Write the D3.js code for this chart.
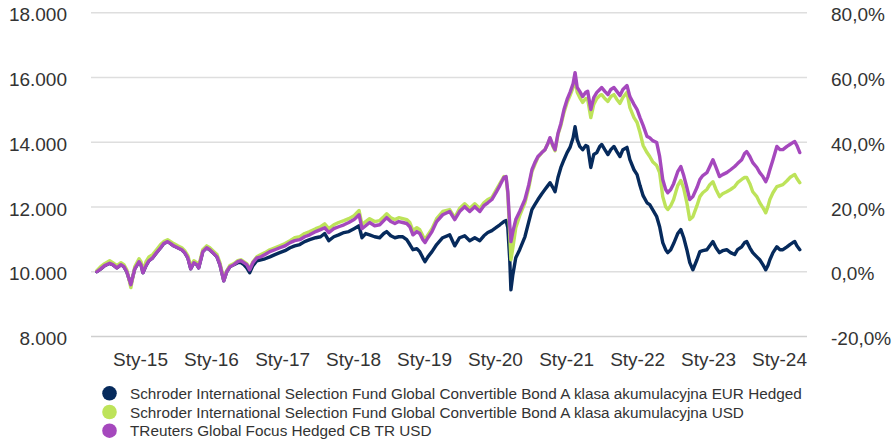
<!DOCTYPE html>
<html><head><meta charset="utf-8">
<script src="https://cdn.jsdelivr.net/npm/d3@7"></script>
<style>
html,body{margin:0;padding:0;background:#fff;}
svg{display:block;}
</style></head>
<body><svg id="chart" width="893" height="442"></svg>
<script>
// ---------------- DATA ----------------
const dates = [
"2014-05-24","2014-06-13","2014-07-03","2014-07-29","2014-08-14","2014-09-04","2014-09-25","2014-10-10","2014-10-25","2014-11-15",
"2014-12-05","2014-12-27","2015-01-06","2015-01-16","2015-02-01","2015-02-16","2015-03-07","2015-03-27","2015-04-17","2015-05-03",
"2015-05-23","2015-06-08","2015-06-23","2015-07-14","2015-08-04","2015-08-19","2015-09-04","2015-09-19","2015-10-05","2015-10-20",
"2015-10-30","2015-11-20","2015-12-10","2015-12-26","2016-01-11","2016-02-01","2016-02-16","2016-03-07","2016-03-22","2016-04-07",
"2016-04-28","2016-05-18","2016-06-03","2016-06-18","2016-07-03","2016-07-18","2016-08-04","2016-08-24","2016-09-14","2016-10-05",
"2016-10-30","2016-11-25","2016-12-20","2017-01-16","2017-02-11","2017-03-07","2017-04-02","2017-04-27","2017-05-23","2017-06-23",
"2017-07-18","2017-08-08","2017-08-29","2017-09-24","2017-10-19","2017-11-15","2017-12-10","2018-01-06","2018-02-01","2018-02-16",
"2018-03-07","2018-03-27","2018-04-22","2018-05-18","2018-06-08","2018-06-23","2018-07-14","2018-08-04","2018-08-24","2018-09-14",
"2018-10-04","2018-10-20","2018-11-05","2018-11-25","2018-12-10","2018-12-26","2019-01-06","2019-01-21","2019-02-11","2019-03-07",
"2019-04-07","2019-05-13","2019-06-08","2019-07-03","2019-07-29","2019-08-24","2019-09-19","2019-10-15","2019-11-05","2019-11-25",
"2019-12-16","2020-01-06","2020-01-26","2020-02-16","2020-02-27","2020-03-07","2020-03-17","2020-03-23","2020-04-02","2020-04-17",
"2020-05-07","2020-06-03","2020-06-23","2020-07-09","2020-07-24","2020-08-09","2020-08-29","2020-09-14","2020-09-29","2020-10-10",
"2020-10-25","2020-11-05","2020-11-20","2020-12-05","2020-12-21","2021-01-06","2021-01-21","2021-02-06","2021-02-16","2021-02-27",
"2021-03-12","2021-03-27","2021-04-12","2021-04-22","2021-05-08","2021-05-23","2021-06-08","2021-06-23","2021-07-03","2021-07-19",
"2021-08-04","2021-08-19","2021-09-04","2021-09-19","2021-10-05","2021-10-20","2021-11-10","2021-11-25","2021-12-16","2022-01-01",
"2022-01-16","2022-02-01","2022-02-21","2022-03-07","2022-03-22","2022-04-12","2022-04-27","2022-05-13","2022-05-28","2022-06-08",
"2022-06-23","2022-07-08","2022-07-29","2022-08-14","2022-08-29","2022-09-14","2022-09-29","2022-10-15","2022-11-05","2022-11-20",
"2022-12-05","2022-12-26","2023-01-10","2023-01-26","2023-02-11","2023-03-01","2023-03-17","2023-04-07","2023-04-27","2023-05-18",
"2023-06-02","2023-06-23","2023-07-08","2023-07-19","2023-08-04","2023-08-19","2023-09-09","2023-09-24","2023-10-10","2023-10-25",
"2023-11-05","2023-11-15","2023-12-01","2023-12-21","2024-01-06","2024-01-21","2024-02-11","2024-02-26","2024-03-12","2024-03-22",
"2024-04-02","2024-04-17"
];

// Schroder ISF Global Convertible Bond A Acc EUR Hedged
const fundEurHedged = [
10000,10090,10190,10260,10220,10120,10220,10160,10000,9600,
10090,10310,10220,9970,10190,10340,10430,10590,10740,10870,
10930,10870,10800,10740,10680,10590,10430,10090,10280,10220,
10120,10620,10740,10680,10590,10460,10220,9720,10000,10150,
10220,10280,10280,10220,10120,9970,10190,10340,10370,10400,
10460,10530,10590,10650,10740,10800,10840,10930,10990,11050,
11080,11180,10960,11080,11140,11210,11240,11330,11420,11050,
11180,11140,11080,11050,11180,11240,11110,11050,11080,11080,
10990,10840,10680,10710,10620,10430,10310,10460,10620,10840,
11050,11140,10800,11050,11110,10960,11050,10960,11110,11210,
11270,11360,11450,11550,11580,11360,10370,9440,9910,10430,
10680,11080,11550,11920,12070,12230,12410,12540,12660,12750,
12600,12470,12910,13220,13460,13680,13840,14140,14480,14080,
13870,13770,13900,13870,13220,13620,13680,13870,13930,13770,
13620,13770,13870,13710,13560,13770,13840,13460,13150,13000,
12660,12350,12130,12070,11920,11700,11390,10900,10680,10590,
10680,10870,11180,11300,11050,10680,10280,10060,10370,10620,
10650,10680,10800,10930,10740,10590,10650,10680,10590,10530,
10680,10770,10900,10930,10740,10590,10460,10370,10220,10060,
10190,10370,10590,10770,10680,10680,10770,10840,10900,10930,
10800,10680
];

// Schroder ISF Global Convertible Bond A Acc USD
const fundUsd = [
10030,10160,10250,10340,10280,10190,10280,10220,10060,9510,
10150,10400,10310,10030,10310,10460,10530,10680,10840,10930,
10990,10930,10870,10800,10740,10650,10500,10160,10340,10280,
10190,10680,10800,10740,10650,10530,10280,9750,10030,10190,
10250,10340,10370,10310,10250,10090,10310,10460,10530,10590,
10680,10740,10800,10870,10960,11050,11080,11180,11240,11330,
11390,11480,11330,11450,11520,11580,11640,11730,11890,11450,
11550,11640,11550,11580,11700,11790,11670,11610,11670,11640,
11610,11520,11270,11360,11300,11110,10990,11140,11330,11640,
11860,11920,11670,11950,12100,11950,12100,11950,12130,12230,
12290,12510,12720,12940,12910,12410,11140,10370,10740,11360,
11730,12130,12600,13090,13310,13530,13680,13770,13960,14110,
13870,13740,14240,14520,14920,15230,15440,15690,16000,15540,
15380,15230,15350,15320,14760,15170,15350,15440,15470,15350,
15260,15410,15470,15320,15200,15380,15540,15070,14760,14610,
14300,13900,13680,13560,13400,13280,13060,12320,12010,11920,
12040,12230,12660,12820,12570,12130,11610,11700,12040,12320,
12440,12540,12690,12780,12540,12320,12410,12470,12540,12630,
12750,12850,12910,12910,12720,12470,12320,12130,11980,11820,
12010,12230,12440,12630,12660,12690,12810,12910,12970,13000,
12880,12750
];

// TReuters Global Focus Hedged CB TR USD
const benchmark = [
10000,10090,10190,10260,10220,10120,10220,10160,10000,9600,
10090,10310,10220,9970,10190,10340,10430,10590,10740,10870,
10930,10870,10800,10740,10680,10590,10430,10090,10280,10220,
10120,10620,10740,10680,10590,10460,10220,9720,10000,10150,
10220,10310,10340,10280,10220,10060,10280,10430,10460,10530,
10620,10680,10740,10800,10900,10960,10990,11080,11140,11240,
11300,11360,11210,11330,11390,11450,11520,11610,11760,11330,
11420,11520,11420,11450,11580,11670,11550,11490,11550,11520,
11490,11390,11140,11240,11180,10990,10900,11050,11240,11550,
11760,11860,11610,11860,12010,11860,12010,11860,12040,12130,
12230,12440,12660,12910,12940,12470,11450,10930,11240,11610,
11860,12230,12690,13150,13370,13560,13680,13770,13960,14140,
13900,13770,14270,14580,15010,15320,15540,15810,16150,15690,
15570,15410,15540,15570,15010,15380,15540,15630,15690,15570,
15470,15630,15690,15570,15440,15630,15750,15410,15170,15010,
14760,14520,14180,14140,14050,13990,13560,12850,12540,12440,
12540,12720,13090,13250,12970,12600,12230,12320,12600,12850,
12970,13060,13250,13460,13220,12940,13000,13060,13150,13250,
13340,13460,13650,13710,13560,13370,13220,13060,12940,12780,
12940,13150,13460,13870,13770,13770,13870,13930,13990,14020,
13900,13680
];

const seriesNames = [
"Schroder International Selection Fund Global Convertible Bond A klasa akumulacyjna EUR Hedged",
"Schroder International Selection Fund Global Convertible Bond A klasa akumulacyjna USD",
"TReuters Global Focus Hedged CB TR USD"
];
const seriesColors = ["#062a5c", "#bde35a", "#a548bd"];

const xTickYears = [2015,2016,2017,2018,2019,2020,2021,2022,2023,2024];
const xTickLabels = ["Sty-15","Sty-16","Sty-17","Sty-18","Sty-19","Sty-20","Sty-21","Sty-22","Sty-23","Sty-24"];
const leftTicks = [8000,10000,12000,14000,16000,18000];
const rightTicks = [-0.2,0,0.2,0.4,0.6,0.8];

// ---------------- CHART ----------------
const svg = d3.select("#chart");
const parse = d3.utcParse("%Y-%m-%d");
const plotLeft = 91, plotRight = 807, plotTop = 12.7, plotBottom = 336.5;

const x = d3.scaleUtc()
  .domain([new Date(Date.UTC(2015,0,1)), new Date(Date.UTC(2024,0,1))])
  .range([140, 779]);
const yL = d3.scaleLinear().domain([8000,18000]).range([plotBottom, plotTop]);
const yR = d3.scaleLinear().domain([-0.2,0.8]).range([plotBottom, plotTop]);

const pl = d3.formatLocale({decimal:",", thousands:".", grouping:[3], currency:["","zł"], minus:"-", percent:"%"});
const fmtL = pl.format(",.0f");
const fmtR = pl.format(".1%");

// gridlines
svg.append("g").selectAll("line").data(leftTicks).join("line")
  .attr("x1", plotLeft).attr("x2", plotRight)
  .attr("y1", d=>yL(d)).attr("y2", d=>yL(d))
  .attr("stroke", d=> d===8000 ? "#cfcfcf" : "#dedede")
  .attr("stroke-width", 1.5);

const fontMain = "'Liberation Sans', Arial, Helvetica, sans-serif";

// left axis
const gL = svg.append("g").attr("transform","translate(67,2)")
  .call(d3.axisLeft(yL).tickValues(leftTicks).tickFormat(fmtL).tickSize(0).tickPadding(0));
gL.select(".domain").remove();
gL.selectAll("text").attr("font-family", fontMain).attr("font-size", 19).attr("fill","#333");

// right axis
const gR = svg.append("g").attr("transform","translate(831,2)")
  .call(d3.axisRight(yR).tickValues(rightTicks).tickFormat(fmtR).tickSize(0).tickPadding(0));
gR.select(".domain").remove();
gR.selectAll("text").attr("font-family", fontMain).attr("font-size", 19).attr("fill","#333");

// bottom axis
const xTickDates = xTickYears.map(yv => new Date(Date.UTC(yv,0,1)));
const gX = svg.append("g").attr("transform","translate(0,352)")
  .call(d3.axisBottom(x).tickValues(xTickDates).tickFormat((d,i)=>xTickLabels[i]).tickSize(0).tickPadding(0));
gX.select(".domain").remove();
gX.selectAll("text").attr("font-family", "'Liberation Sans Narrow', 'Arial Narrow', " + fontMain)
  .attr("font-size", 19).attr("fill","#333");

// lines
const allSeries = [fundEurHedged, fundUsd, benchmark];
const parsedDates = dates.map(parse);
const line = d3.line().x((d,i)=>x(parsedDates[i])).y(d=>yL(d));
svg.append("g").selectAll("path").data(allSeries).join("path")
  .attr("d", d=>line(d))
  .attr("fill","none")
  .attr("stroke",(d,i)=>seriesColors[i])
  .attr("stroke-width",3.4)
  .attr("stroke-linejoin","round")
  .attr("stroke-linecap","round");

// legend
const leg = svg.append("g").selectAll("g").data(seriesNames).join("g")
  .attr("transform",(d,i)=>`translate(109.5,${393.3 + i*18.7})`);
leg.append("circle").attr("r",7.3).attr("fill",(d,i)=>seriesColors[i]);
leg.append("text").attr("x",20.5).attr("y",5.5).text(d=>d)
  .attr("font-family", fontMain).attr("font-size",15.3).attr("fill","#333");
</script>
</body></html>
